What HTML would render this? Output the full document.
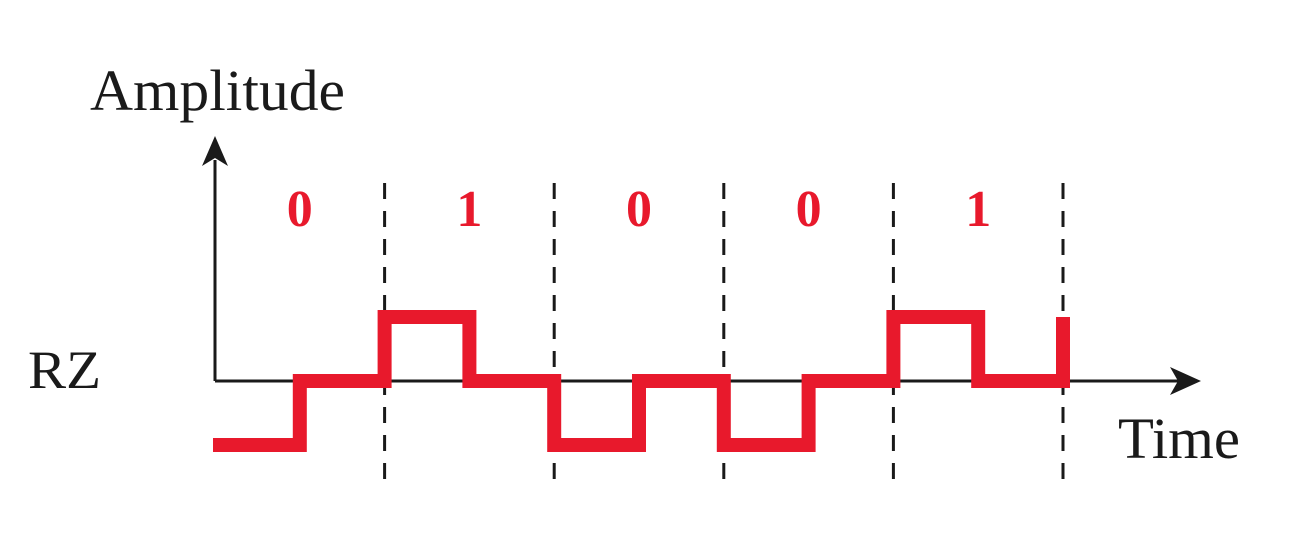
<!DOCTYPE html>
<html><head><meta charset="utf-8"><style>
body{margin:0;background:#fff;width:1292px;height:543px;overflow:hidden}
text{font-family:"Liberation Serif",serif}
</style></head><body>
<svg id="chart" width="1292" height="543" viewBox="0 0 1292 543">
<g id="grid"></g>
<line x1="215" y1="381" x2="215" y2="160" stroke="#1a1a1a" stroke-width="3"/>
<polygon points="215,136 202,166 215,158 228,166" fill="#1a1a1a"/>
<line x1="215" y1="381" x2="1180" y2="381" stroke="#1a1a1a" stroke-width="3"/>
<polygon points="1201,381 1170,367 1178,381 1170,395" fill="#1a1a1a"/>
<text x="90" y="110" font-size="58" textLength="255" lengthAdjust="spacingAndGlyphs" fill="#1a1a1a">Amplitude</text>
<text x="1118" y="458" font-size="58" textLength="122" lengthAdjust="spacingAndGlyphs" fill="#1a1a1a">Time</text>
<text x="28" y="388" font-size="54" textLength="73" lengthAdjust="spacingAndGlyphs" fill="#1a1a1a">RZ</text>
<g id="labels"></g>
<path id="signal" fill="none" stroke="#e8192c" stroke-width="14" stroke-linejoin="miter" stroke-linecap="butt"/>
</svg>
<script>
const bits = [0, 1, 0, 0, 1];
const bitLabels = ["0", "1", "0", "0", "1"];
const levels = [-1, 1];

const x0 = 215, bitW = 169.6;
const yZero = 381, yAmp = 64;
const xs = i => x0 + i * bitW;
const ys = v => yZero - v * yAmp;

const ns = 'http://www.w3.org/2000/svg';
const grid = document.getElementById('grid');
const labels = document.getElementById('labels');

for (let i = 1; i <= bits.length; i++) {
  const l = document.createElementNS(ns, 'line');
  
  
  l.setAttribute('x1', xs(i)); l.setAttribute('x2', xs(i));
  l.setAttribute('y1', 183); l.setAttribute('y2', 490);
  l.setAttribute('stroke', '#1a1a1a'); l.setAttribute('stroke-width', '3');
  l.setAttribute('stroke-dasharray', '16 12');
  grid.appendChild(l);
}
bitLabels.forEach((b, i) => {
  const t = document.createElementNS(ns, 'text');
  
  
  t.setAttribute('x', xs(i + 0.5)); t.setAttribute('y', 226);
  t.setAttribute('text-anchor', 'middle');
  t.setAttribute('font-size', '52'); t.setAttribute('font-weight', 'bold');
  t.setAttribute('fill', '#e8192c');
  t.textContent = b;
  labels.appendChild(t);
});

let d = 'M ' + (x0 - 2) + ' ' + ys(levels[bits[0]]);
bits.forEach((b, i) => {
  const v = levels[b];
  d += ' L ' + xs(i) + ' ' + ys(v);
  d += ' L ' + xs(i + 0.5) + ' ' + ys(v);
  d += ' L ' + xs(i + 0.5) + ' ' + ys(0);
  d += ' L ' + xs(i + 1) + ' ' + ys(0);
});
d += ' L ' + xs(bits.length) + ' ' + ys(1);
document.getElementById('signal').setAttribute('d', d);
</script>
</body></html>
